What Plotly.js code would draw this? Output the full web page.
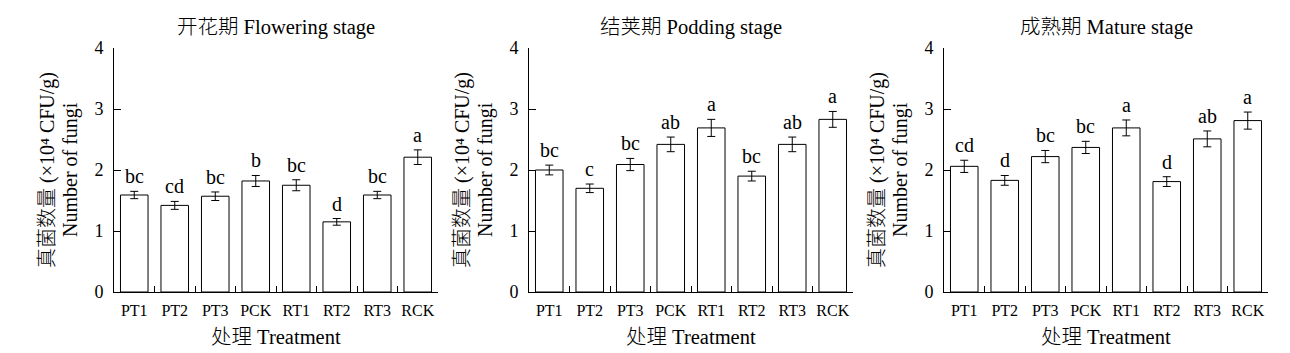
<!DOCTYPE html>
<html>
<head>
<meta charset="utf-8">
<script src="https://cdn.plot.ly/plotly-3.0.1.min.js"></script>
<style>html,body{margin:0;padding:0;background:#fff;}#chart{width:1290px;height:353px;}</style>
</head>
<body>
<div id="chart"></div>
<script>
const categories = ["PT1","PT2","PT3","PCK","RT1","RT2","RT3","RCK"];
const stageTitles = ["开花期 Flowering stage","结荚期 Podding stage","成熟期 Mature stage"];

const flowering = [1.59, 1.42, 1.57, 1.82, 1.75, 1.15, 1.59, 2.21];
const floweringErr = [0.06, 0.065, 0.07, 0.09, 0.09, 0.055, 0.06, 0.12];
const floweringLetters = ["bc","cd","bc","b","bc","d","bc","a"];

const podding = [2.00, 1.70, 2.09, 2.42, 2.69, 1.90, 2.42, 2.83];
const poddingErr = [0.08, 0.07, 0.10, 0.12, 0.14, 0.08, 0.12, 0.13];
const poddingLetters = ["bc","c","bc","ab","a","bc","ab","a"];

const mature = [2.06, 1.83, 2.22, 2.37, 2.69, 1.81, 2.51, 2.81];
const matureErr = [0.10, 0.08, 0.10, 0.10, 0.13, 0.08, 0.13, 0.14];
const matureLetters = ["cd","d","bc","bc","a","d","ab","a"];

const yTitle1 = "真菌数量 (×10⁴ CFU/g)";
const yTitle2 = "Number of fungi";
const xTitle = "处理 Treatment";

const FONT = "'Liberation Serif', 'Noto Sans CJK SC', serif";
const series = [flowering, podding, mature];
const errs = [floweringErr, poddingErr, matureErr];
const letters = [floweringLetters, poddingLetters, matureLetters];
const domains = [[114/1290, 438/1290],[529/1290, 853/1290],[944/1290, 1268/1290]];

const data = [];
const annotations = [];
const layout = {
  width: 1290, height: 353,
  margin: {l: 0, r: 0, t: 48, b: 61},
  paper_bgcolor: "#fff", plot_bgcolor: "#fff",
  showlegend: false,
  bargap: 0.32,
  font: {family: FONT, color: "#000"},
  annotations: annotations
};

for (let i = 0; i < 3; i++) {
  const xa = i === 0 ? "x" : "x" + (i + 1);
  const ya = i === 0 ? "y" : "y" + (i + 1);
  data.push({
    type: "bar", x: categories, y: series[i], xaxis: xa, yaxis: ya,
    marker: {color: "#fff", line: {color: "#000", width: 1}},
    error_y: {type: "data", array: errs[i], visible: true, color: "#000", thickness: 1, width: 4},
    hoverinfo: "skip"
  });
  const xk = i === 0 ? "xaxis" : "xaxis" + (i + 1);
  const yk = i === 0 ? "yaxis" : "yaxis" + (i + 1);
  layout[xk] = {
    domain: domains[i], anchor: ya, type: "category",
    showline: true, linecolor: "#000", linewidth: 1,
    ticks: "inside", tickson: "boundaries", ticklen: 6, tickcolor: "#000", tickwidth: 1,
    tickangle: 0, ticklabelstandoff: 4,
    showgrid: false, zeroline: false,
    tickfont: {family: FONT, size: 16, color: "#000"},
    fixedrange: true
  };
  layout[yk] = {
    domain: [0, 1], anchor: xa, range: [0, 4], dtick: 1,
    showline: true, linecolor: "#000", linewidth: 1,
    ticks: "inside", ticklen: 7, tickcolor: "#000", tickwidth: 1,
    ticklabelstandoff: 6,
    showgrid: false, zeroline: false,
    tickfont: {family: FONT, size: 18, color: "#000"},
    fixedrange: true
  };
  const cx = (domains[i][0] + domains[i][1]) / 2;
  const tf = {family: FONT, size: 20.5, color: "#000", weight: 300};
  annotations.push({text: stageTitles[i], xref: "paper", yref: "paper", x: cx, y: 1, yshift: 21,
    xanchor: "center", yanchor: "middle", showarrow: false, font: tf});
  annotations.push({text: xTitle, xref: "paper", yref: "paper", x: cx, y: 0, yshift: -45,
    xanchor: "center", yanchor: "middle", showarrow: false, font: tf});
  annotations.push({text: yTitle1, xref: "paper", yref: "paper", x: domains[i][0], xshift: -67, y: 0.5,
    textangle: -90, xanchor: "center", yanchor: "middle", showarrow: false, font: {family: FONT, size: 20, color: "#000", weight: 300}});
  annotations.push({text: yTitle2, xref: "paper", yref: "paper", x: domains[i][0], xshift: -44, y: 0.5,
    textangle: -90, xanchor: "center", yanchor: "middle", showarrow: false, font: {family: FONT, size: 20, color: "#000"}});
  for (let j = 0; j < categories.length; j++) {
    annotations.push({text: letters[i][j], xref: xa, yref: ya, x: categories[j], y: series[i][j] + errs[i][j],
      yshift: 2, xanchor: "center", yanchor: "bottom", showarrow: false,
      font: {family: FONT, size: 20, color: "#000"}});
  }
}

Plotly.newPlot("chart", data, layout, {displayModeBar: false, staticPlot: true});
</script>
</body>
</html>
